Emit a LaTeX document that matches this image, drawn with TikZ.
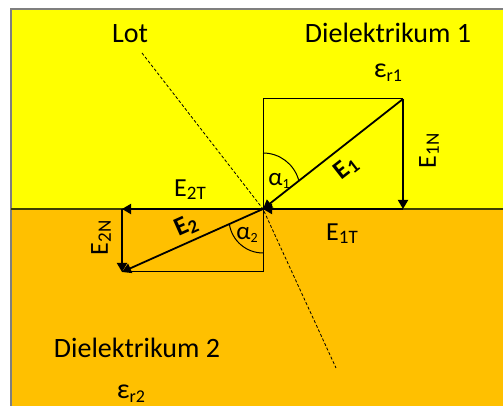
\documentclass[tikz,border=0pt]{standalone}
\usepackage{fontspec}
\setmainfont{Carlito}
\usetikzlibrary{arrows.meta}
\definecolor{dielyellow}{HTML}{FFFF00}
\definecolor{dielorange}{HTML}{FFC000}
\definecolor{frameline}{HTML}{7F7F7F}
\definecolor{boundline}{HTML}{3F3F00}
\newcommand{\lowsub}[2]{\raisebox{-0.12em}{\fontsize{#1}{#1}\selectfont #2}}

\begin{document}
\begin{tikzpicture}[
  x=0.5pt, y=0.5pt,
  >={Triangle[length=4.5pt,width=5pt]},
  vec/.style={->, line width=0.9pt, draw=black},
  helper/.style={line width=0.5pt, draw=black},
  lotline/.style={line width=0.4pt, dash pattern=on 1.5pt off 1pt},
  mainlabel/.style={font=\fontsize{14}{16}\selectfont, inner sep=0pt, anchor=base},
  veclabel/.style={font=\fontsize{13}{15}\selectfont, inner sep=0pt},
  boldlabel/.style={font=\fontsize{13}{15}\selectfont\bfseries, inner sep=0pt},
  anglelabel/.style={font=\fontsize{12.5}{14}\selectfont, inner sep=0pt}
]
  \useasboundingbox (0,0) rectangle (503,406);
  \clip (0,0) rectangle (503,406);

  % Dielectric media
  \fill[dielorange] (11,-10) rectangle (520,197);
  \fill[dielyellow] (11,197) rectangle (520,397);
  \draw[frameline, line width=0.6pt] (11,-10) -- (11,397) -- (520,397);
  \draw[boundline, line width=0.7pt] (11,197) -- (520,197);

  % Construction points
  \coordinate (origin) at (263,197);
  \coordinate (e1tail) at (403,307);
  \coordinate (e1foot) at (403,197);
  \coordinate (e1corner) at (263,307);
  \coordinate (e2tip) at (122,134);
  \coordinate (e2foot) at (122,197);
  \coordinate (e2corner) at (263,134);
  \coordinate (lottop) at (142,353);
  \coordinate (lotbottom) at (336,38);
  \coordinate (alphaonestart) at (263,253);
  \coordinate (alphatwostart) at (229.4,181.7);

  % Helper rectangles and Lot
  \draw[helper] (origin) -- (e1corner) -- (e1tail);
  \draw[helper] (origin) -- (e2corner) -- (e2tip);
  \draw[lotline] (lottop) -- (origin) -- (lotbottom);

  % Angle arcs
  \draw[helper] (alphaonestart) arc[start angle=90, end angle=16, radius=37];
  \draw[helper] (alphatwostart) arc[start angle=189, end angle=270, radius=34];

  % Field vectors
  \draw[vec] (e1tail) -- (origin);
  \draw[vec] (e1tail) -- (e1foot);
  \draw[vec] (e1foot) -- (origin);
  \draw[vec] (origin) -- (e2tip);
  \draw[vec] (origin) -- (e2foot);
  \draw[vec] (e2foot) -- (e2tip);

  % Labels
  \node[mainlabel] (lot) at (130,363) {Lot};
  \node[mainlabel] (diel1) at (388,363) {Dielektrikum 1};
  \node[mainlabel] (epsr1) at (388,328) {ε\lowsub{9}{r1}};
  \node[mainlabel] (diel2) at (137,48) {Dielektrikum 2};
  \node[mainlabel] (epsr2) at (131,7) {ε\lowsub{9}{r2}};
  \node[veclabel, rotate=90] (e1nlabel) at (429,255) {E\lowsub{9.5}{1N}};
  \node[veclabel, rotate=90] (e2nlabel) at (101,168) {E\lowsub{9.5}{2N}};
  \node[veclabel] (e1tlabel) at (342,172) {E\lowsub{9.5}{1T}};
  \node[veclabel] (e2tlabel) at (190,216) {E\lowsub{9.5}{2T}};
  \node[boldlabel, rotate=38] (e1label) at (346,238) {E\lowsub{9.5}{1}};
  \node[boldlabel, rotate=24] (e2label) at (186,180) {E\lowsub{9.5}{2}};
  \node[anglelabel] (alpha1) at (279,225) {α\lowsub{7}{1}};
  \node[anglelabel] (alpha2) at (247,171) {α\lowsub{7}{2}};

\end{tikzpicture}
\end{document}
